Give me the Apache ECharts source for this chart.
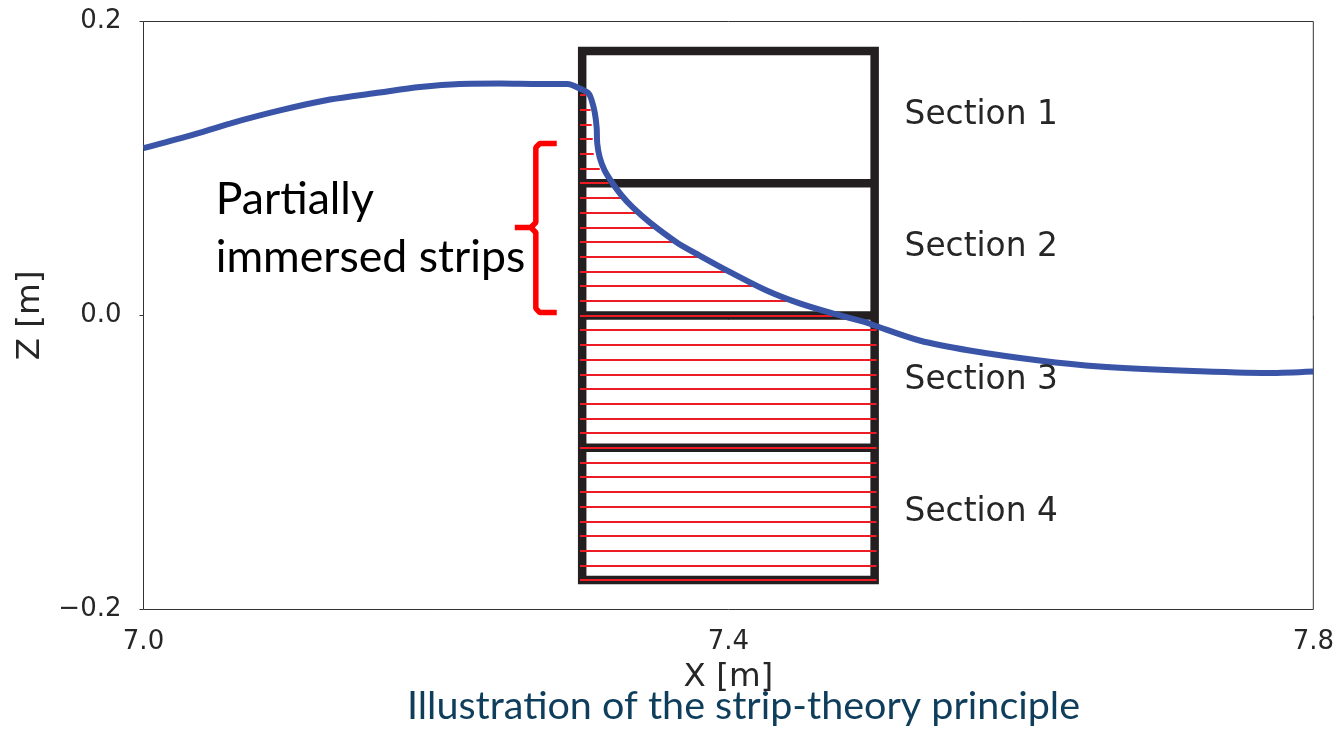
<!DOCTYPE html>
<html>
<head>
<meta charset="utf-8">
<title>Strip theory</title>
<script src="https://cdn.jsdelivr.net/npm/echarts@6/dist/echarts.min.js"></script>
<style>
  html, body { margin: 0; padding: 0; background: #fff; }
  #chart { width: 1337px; height: 729px; }
</style>
</head>
<body>
<div id="chart"></div>
<script>
const xTicks = [7.0, 7.4, 7.8];

// free surface
const waveX = [7.0, 7.0318, 7.0591, 7.0933, 7.1275, 7.1616, 7.189, 7.2163, 7.2437, 7.271, 7.2901, 7.2983, 7.3045, 7.3065, 7.3086, 7.3099, 7.3103, 7.312, 7.3154, 7.3209, 7.327, 7.3346, 7.3462, 7.3647, 7.3803, 7.4029, 7.4261, 7.4487, 7.4713, 7.4945, 7.4999, 7.5307, 7.5649, 7.6127, 7.6537, 7.7084, 7.7699, 7.8];
const waveZ = [0.1139, 0.1224, 0.1306, 0.1395, 0.1469, 0.1517, 0.1554, 0.1575, 0.1578, 0.1575, 0.1575, 0.1544, 0.151, 0.1463, 0.1381, 0.1279, 0.117, 0.1075, 0.0986, 0.0898, 0.0816, 0.0735, 0.0633, 0.0497, 0.0408, 0.0286, 0.017, 0.0082, 0.0014, -0.0048, -0.0068, -0.017, -0.0238, -0.0306, -0.0347, -0.0374, -0.0391, -0.0381];

// section box
const boxLeft = 7.3;
const boxRight = 7.5;
const sectionEdges = [0.18, 0.09, 0.0, -0.09, -0.18];
const sectionNames = ['Section 1', 'Section 2', 'Section 3', 'Section 4'];

// strips: level and where each one stops (wetted part only)
const stripStart = 7.2985;
const stripZ = [0.15, 0.14, 0.13, 0.12, 0.11, 0.10, 0.09, 0.08, 0.07, 0.06, 0.05, 0.04, 0.03, 0.02, 0.01, 0.0, -0.01, -0.02, -0.03, -0.04, -0.05, -0.06, -0.07, -0.08, -0.09, -0.10, -0.11, -0.12, -0.13, -0.14, -0.15, -0.16, -0.17, -0.18];
const stripEnd = [7.3024, 7.3058, 7.3065, 7.3072, 7.3079, 7.312, 7.3181, 7.327, 7.3373, 7.3496, 7.3633, 7.3803, 7.3995, 7.42, 7.4439, 7.4713, 7.5013, 7.5013, 7.5013, 7.5013, 7.5013, 7.5013, 7.5013, 7.5013, 7.5013, 7.5013, 7.5013, 7.5013, 7.5013, 7.5013, 7.5013, 7.5013, 7.5013, 7.5013];

// curly bracket
const braceX = [7.2826, 7.271, 7.2683, 7.2683, 7.2649, 7.2539, null, 7.2649, 7.2683, 7.2683, 7.271, 7.2826];
const braceZ = [0.117, 0.117, 0.1143, 0.0633, 0.0599, 0.0599, null, 0.0599, 0.0565, 0.0048, 0.002, 0.002];

const pairs = (xs, ys) => xs.map((x, i) => (x === null ? ['-', '-'] : [x, ys[i]]));

const boxPath = [[boxLeft, 0.18], [boxRight, 0.18], [boxRight, -0.18], [boxLeft, -0.18], [boxLeft, 0.18]];
sectionEdges.slice(1, -1).forEach(z => {
  boxPath.push(['-', '-'], [boxLeft, z], [boxRight, z]);
});

const sectionLabels = sectionNames.map((name, i) => ({
  name: name,
  value: [7.5205, (sectionEdges[i] + sectionEdges[i + 1]) / 2 + 0.001]
}));

const textColor = '#262626';

const chart = echarts.init(document.getElementById('chart'));
chart.setOption({
  animation: false,
  backgroundColor: '#fff',
  textStyle: { fontFamily: 'DejaVu Sans' },
  title: {
    text: 'Illustration of the strip-theory principle',
    left: 407,
    top: 686,
    padding: 0,
    textStyle: { fontFamily: 'Lato', fontSize: 39.5, fontWeight: 'normal', color: '#0f3e5c' }
  },
  grid: {
    left: 143.5,
    right: 22.5,
    top: 21.5,
    height: 588,
    show: true,
    borderColor: '#333',
    borderWidth: 1
  },
  xAxis: {
    type: 'value',
    min: 7.0,
    max: 7.8,
    name: 'X [m]',
    nameLocation: 'middle',
    nameGap: 52,
    nameTextStyle: { fontSize: 32.5, color: textColor },
    axisLine: { show: false },
    splitLine: { show: false },
    axisTick: { show: true, length: 4, customValues: xTicks, lineStyle: { color: '#333' } },
    axisLabel: {
      customValues: xTicks,
      margin: 20,
      fontSize: 26,
      color: textColor,
      formatter: v => v.toFixed(1)
    }
  },
  yAxis: {
    type: 'value',
    min: -0.2,
    max: 0.2,
    interval: 0.2,
    name: 'Z [m]',
    nameLocation: 'middle',
    nameGap: 89,
    nameTextStyle: { fontSize: 32.5, color: textColor },
    axisLine: { show: false },
    splitLine: { show: false },
    axisTick: { show: true, length: 4, lineStyle: { color: '#333' } },
    axisLabel: {
      margin: 22,
      fontSize: 26,
      color: textColor,
      formatter: v => v.toFixed(1).replace('-', '\u2212')
    }
  },
  series: [
    {
      name: 'sections',
      type: 'line',
      z: 2,
      showSymbol: false,
      silent: true,
      data: boxPath,
      lineStyle: { color: '#231f20', width: 8.5, cap: 'square', join: 'miter' }
    },
    {
      name: 'strips',
      type: 'lines',
      coordinateSystem: 'cartesian2d',
      z: 3,
      silent: true,
      data: stripZ.map((z, i) => ({ coords: [[stripStart, z], [stripEnd[i], z]] })),
      lineStyle: { color: '#ed1c24', width: 2, opacity: 1 }
    },
    {
      name: 'wave',
      type: 'line',
      z: 4,
      showSymbol: false,
      silent: true,
      smooth: 0.3,
      data: pairs(waveX, waveZ),
      lineStyle: { color: '#3a55a8', width: 6 }
    },
    {
      name: 'brace',
      type: 'line',
      z: 4,
      showSymbol: false,
      silent: true,
      data: pairs(braceX, braceZ),
      lineStyle: { color: '#ff0000', width: 5.5 }
    },
    {
      name: 'sectionLabels',
      type: 'scatter',
      z: 5,
      symbolSize: 0,
      silent: true,
      itemStyle: { opacity: 1 },
      data: sectionLabels,
      label: {
        show: true,
        position: 'right',
        distance: 0,
        formatter: '{b}',
        fontFamily: 'DejaVu Sans',
        fontSize: 32.8,
        color: textColor
      }
    },
    {
      name: 'note',
      type: 'scatter',
      z: 5,
      symbolSize: 0,
      silent: true,
      itemStyle: { opacity: 1 },
      data: [
        { name: 'Partially', value: [7.0494, 0.0789] },
        { name: 'immersed strips', value: [7.0494, 0.0395] }
      ],
      label: {
        show: true,
        position: 'right',
        distance: 0,
        formatter: '{b}',
        fontFamily: 'Lato',
        fontSize: 44.6,
        color: '#000'
      }
    }
  ]
});
</script>
</body>
</html>
